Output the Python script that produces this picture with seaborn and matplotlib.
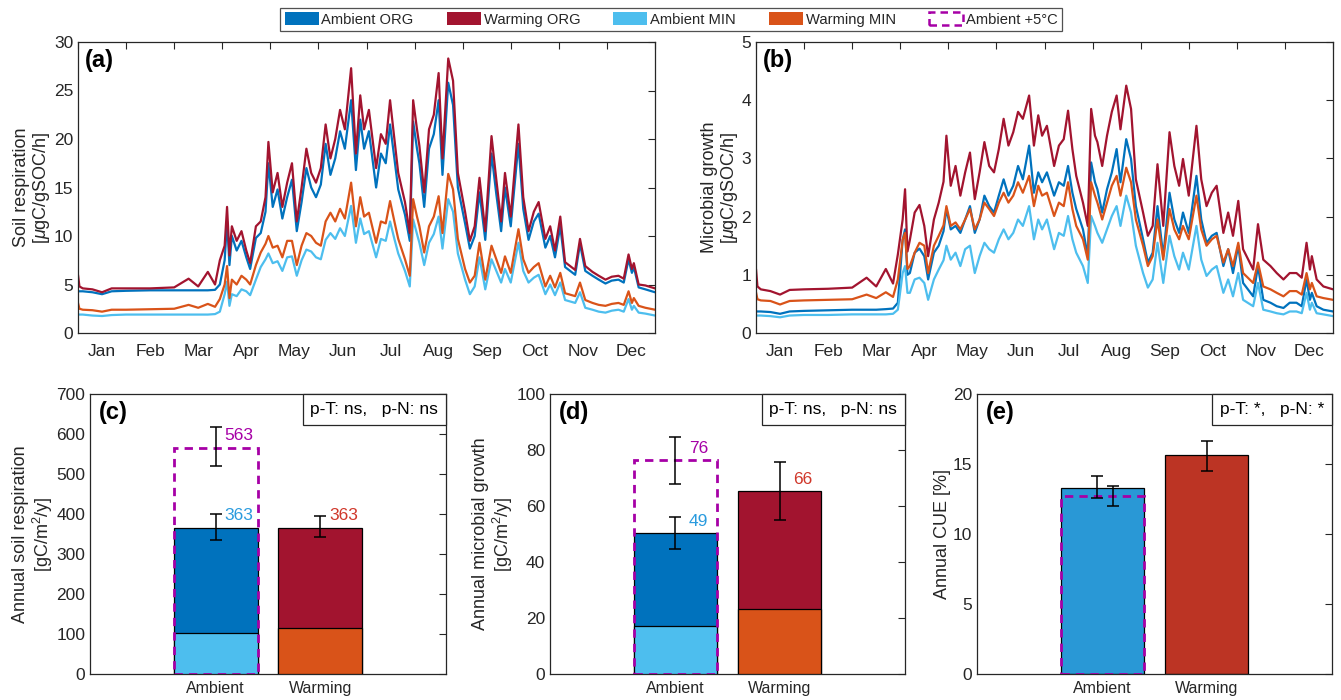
import numpy as np
import pandas as pd
import matplotlib
matplotlib.use("Agg")
import matplotlib.pyplot as plt
import seaborn as sns
from matplotlib.patches import Patch
from matplotlib.offsetbox import AnchoredText

# ---------------- data ----------------
month_labels = ["Jan", "Feb", "Mar", "Apr", "May", "Jun", "Jul", "Aug", "Sep", "Oct", "Nov", "Dec"]

# time knots in months since 1 Jan
months = [0.0, 0.03, 0.1, 0.3, 0.5, 0.7, 1.0, 1.5, 2.0, 2.3,
          2.5, 2.7, 2.85, 2.95, 3.05, 3.1, 3.15, 3.2, 3.3, 3.4,
          3.5, 3.58, 3.7, 3.8, 3.9, 3.96, 4.05, 4.15, 4.25, 4.35,
          4.45, 4.55, 4.65, 4.75, 4.85, 4.95, 5.05, 5.15, 5.25, 5.35,
          5.45, 5.55, 5.68, 5.78, 5.87, 5.95, 6.05, 6.2, 6.3, 6.4,
          6.49, 6.58, 6.66, 6.8, 6.9, 6.97, 7.05, 7.1, 7.2, 7.3,
          7.4, 7.5, 7.58, 7.7, 7.8, 7.9, 8.05, 8.15, 8.25, 8.35,
          8.47, 8.6, 8.7, 8.8, 8.88, 9.0, 9.16, 9.26, 9.37, 9.48,
          9.58, 9.72, 9.82, 9.92, 10.03, 10.13, 10.34, 10.44, 10.55, 10.7,
          10.83, 10.97, 11.1, 11.24, 11.35, 11.45, 11.52, 11.56, 11.66, 11.8,
          12.0]

# (a) soil respiration [ugC/gSOC/h]
resp_amb_org = [4.3, 4.3, 4.3, 4.2, 4.0, 4.3, 4.35, 4.4, 4.4, 4.4,
                4.4, 4.4, 4.45, 5.0, 7.5, 11.5, 7.0, 10.0, 8.5, 9.5,
                7.8, 6.6, 9.8, 10.3, 12.5, 17.5, 13.0, 14.8, 11.8, 14.0,
                15.8, 10.5, 13.5, 17.0, 15.0, 14.0, 15.3, 19.5, 16.3, 18.0,
                20.8, 19.0, 24.0, 16.8, 22.0, 19.0, 20.8, 15.0, 18.5, 17.5,
                21.5, 18.0, 14.8, 12.2, 9.5, 21.8, 19.0, 17.5, 13.0, 19.0,
                20.5, 24.0, 16.3, 25.8, 23.5, 15.0, 11.3, 8.7, 10.0, 14.5,
                9.6, 18.5, 14.3, 10.5, 15.0, 11.0, 19.5, 12.8, 9.6, 11.5,
                12.3, 8.8, 10.0, 7.8, 11.0, 6.8, 6.0, 9.2, 6.4, 5.9,
                5.5, 5.1, 5.4, 5.5, 5.2, 7.6, 6.2, 6.8, 4.7, 4.5,
                4.2]
resp_warm_org = [6.0, 4.8, 4.6, 4.5, 4.2, 4.6, 4.6, 4.6, 4.7, 5.6,
                 4.8, 6.3, 5.0, 7.5, 9.0, 13.0, 8.0, 11.0, 9.5, 10.5,
                 8.5, 7.2, 11.0, 11.5, 14.0, 19.7, 14.5, 16.5, 13.0, 15.5,
                 17.5, 11.5, 15.0, 19.0, 16.5, 15.5, 17.0, 21.5, 18.0, 20.0,
                 23.0, 21.0, 27.3, 18.5, 24.5, 21.0, 23.0, 17.0, 20.5, 19.5,
                 24.0, 20.0, 16.5, 13.5, 10.3, 24.0, 21.0, 19.3, 14.5, 21.0,
                 22.5, 26.8, 18.0, 28.3, 26.0, 16.5, 12.5, 9.5, 11.0, 16.0,
                 10.5, 20.3, 15.8, 11.5, 16.5, 12.0, 21.5, 14.0, 10.5, 12.5,
                 13.5, 9.7, 11.0, 8.5, 12.0, 7.3, 6.5, 9.7, 6.9, 6.3,
                 5.9, 5.5, 5.8, 5.9, 5.6, 8.1, 6.6, 7.2, 5.0, 4.9,
                 4.6]
resp_amb_min = [1.9, 1.9, 1.9, 1.8, 1.75, 1.85, 1.9, 1.9, 1.9, 1.9,
                1.9, 1.9, 1.95, 2.2, 4.0, 5.3, 2.8, 4.0, 3.8, 4.5,
                4.3, 3.9, 5.5, 6.8, 7.6, 8.2, 7.2, 7.4, 6.4, 7.8,
                7.9, 5.9, 7.5, 8.6, 8.4, 7.8, 7.6, 9.6, 10.3, 9.7,
                10.8, 10.0, 13.1, 9.3, 11.8, 10.2, 10.5, 7.8, 9.7, 9.5,
                11.5, 9.7, 8.2, 6.4, 4.8, 11.7, 10.2, 9.3, 7.0, 9.3,
                10.2, 12.0, 8.7, 13.8, 12.5, 8.2, 5.5, 4.0, 4.8, 7.8,
                4.5, 7.6, 6.4, 5.2, 6.6, 5.2, 9.3, 6.4, 5.2, 5.7,
                6.0, 4.0, 5.0, 3.9, 5.2, 3.4, 3.1, 4.2, 2.6, 2.4,
                2.2, 2.1, 2.3, 2.4, 2.2, 3.5, 2.4, 2.8, 2.1, 2.0,
                1.8]
resp_warm_min = [3.1, 2.5, 2.4, 2.35, 2.2, 2.4, 2.4, 2.45, 2.5, 2.9,
                 2.6, 3.0, 2.7, 3.5, 5.0, 6.9, 3.6, 5.5, 5.0, 5.9,
                 5.5, 5.0, 7.0, 8.3, 9.2, 10.0, 8.8, 9.0, 7.8, 9.5,
                 9.5, 7.0, 9.0, 10.3, 10.0, 9.3, 9.0, 11.5, 12.4, 11.5,
                 12.8, 11.8, 15.5, 11.0, 14.0, 12.0, 12.4, 9.3, 11.5, 11.3,
                 13.6, 11.5, 9.7, 7.6, 5.9, 13.8, 12.0, 11.0, 8.3, 11.0,
                 12.0, 14.1, 10.3, 16.4, 14.8, 9.7, 6.6, 5.2, 5.9, 9.3,
                 5.5, 9.0, 7.6, 6.2, 7.9, 6.2, 10.7, 7.6, 6.2, 6.8,
                 7.2, 4.8, 5.9, 4.7, 6.2, 4.1, 3.8, 5.2, 3.4, 3.1,
                 2.9, 2.8, 3.0, 3.1, 2.9, 4.3, 3.1, 3.6, 2.8, 2.6,
                 2.4]

# (b) microbial growth [ugC/gSOC/h]
grow_amb_org = [0.37, 0.37, 0.37, 0.36, 0.33, 0.37, 0.38, 0.39, 0.4, 0.4,
                0.4, 0.41, 0.42, 0.52, 1.6, 1.78, 1.0, 1.03, 1.38, 1.45,
                1.32, 0.92, 1.38, 1.5, 1.75, 2.13, 1.78, 1.84, 1.72, 1.95,
                2.18, 1.72, 1.95, 2.36, 2.18, 2.07, 2.36, 2.64, 2.36, 2.53,
                2.87, 2.64, 3.22, 2.41, 2.76, 2.59, 2.76, 2.36, 2.59, 2.53,
                2.87, 2.41, 2.13, 1.78, 1.32, 2.93, 2.59, 2.47, 2.07, 2.47,
                2.76, 3.16, 2.59, 3.33, 2.99, 2.18, 1.61, 1.21, 1.38, 2.18,
                1.32, 2.41, 1.95, 1.72, 2.07, 1.72, 2.7, 1.95, 1.55, 1.67,
                1.72, 1.15, 1.44, 1.03, 1.5, 0.86, 0.63, 1.15, 0.57, 0.52,
                0.46, 0.43, 0.52, 0.52, 0.46, 0.92, 0.57, 0.69, 0.46, 0.4,
                0.37]
grow_warm_org = [1.1, 0.8, 0.75, 0.72, 0.66, 0.74, 0.75, 0.76, 0.78, 0.95,
                 0.8, 1.1, 0.85, 1.35, 1.95, 2.47, 1.4, 1.6, 2.07, 2.2,
                 1.84, 1.32, 1.95, 2.24, 2.6, 3.39, 2.53, 2.87, 2.36, 2.76,
                 3.1, 2.3, 2.76, 3.28, 2.87, 2.76, 3.16, 3.68, 3.22, 3.45,
                 3.8, 3.68, 4.08, 3.22, 3.74, 3.39, 3.56, 2.87, 3.22, 3.33,
                 3.82, 3.16, 2.7, 2.24, 1.84, 3.85, 3.39, 3.28, 2.87, 3.39,
                 3.8, 4.08, 3.5, 4.25, 3.85, 2.64, 2.07, 1.67, 1.84, 2.9,
                 1.84, 3.45, 2.87, 2.53, 2.99, 2.36, 3.56, 2.64, 2.18, 2.41,
                 2.53, 1.72, 2.07, 1.67, 2.27, 1.44, 1.09, 1.87, 1.26, 1.15,
                 1.03, 0.92, 1.03, 1.03, 0.95, 1.55, 1.09, 1.32, 0.92, 0.8,
                 0.75]
grow_amb_min = [0.3, 0.3, 0.3, 0.29, 0.27, 0.3, 0.31, 0.31, 0.32, 0.32,
                0.32, 0.32, 0.33, 0.4, 1.03, 1.15, 0.69, 0.69, 0.92, 0.95,
                0.86, 0.57, 0.92, 1.09, 1.25, 1.5, 1.26, 1.38, 1.15, 1.44,
                1.5, 1.03, 1.32, 1.55, 1.44, 1.38, 1.61, 1.78, 1.61, 1.72,
                1.95, 1.84, 2.18, 1.61, 1.95, 1.78, 1.95, 1.44, 1.72, 1.67,
                2.01, 1.61, 1.38, 1.15, 0.86, 2.01, 1.84, 1.72, 1.55, 1.78,
                2.01, 2.18, 1.84, 2.36, 2.07, 1.5, 1.03, 0.78, 0.92, 1.55,
                0.86, 1.67, 1.32, 1.09, 1.38, 1.09, 1.84, 1.26, 0.98, 1.09,
                1.15, 0.69, 0.92, 0.63, 1.03, 0.57, 0.46, 0.86, 0.4, 0.37,
                0.34, 0.32, 0.37, 0.37, 0.34, 0.69, 0.4, 0.52, 0.34, 0.32,
                0.29]
grow_warm_min = [0.7, 0.58, 0.56, 0.55, 0.49, 0.55, 0.56, 0.57, 0.58, 0.66,
                 0.6, 0.7, 0.62, 0.92, 1.6, 1.72, 1.1, 1.15, 1.38, 1.55,
                 1.5, 1.03, 1.5, 1.67, 1.85, 2.18, 1.84, 1.9, 1.78, 1.95,
                 2.13, 1.78, 1.95, 2.24, 2.13, 2.01, 2.24, 2.41, 2.24, 2.36,
                 2.59, 2.41, 2.7, 2.18, 2.53, 2.36, 2.41, 2.01, 2.24, 2.18,
                 2.59, 2.13, 1.84, 1.61, 1.26, 2.59, 2.36, 2.24, 1.95, 2.24,
                 2.53, 2.7, 2.36, 2.84, 2.59, 1.95, 1.5, 1.15, 1.32, 1.95,
                 1.26, 2.13, 1.78, 1.61, 1.84, 1.61, 2.36, 1.78, 1.5, 1.61,
                 1.67, 1.21, 1.44, 1.15, 1.55, 1.03, 0.86, 1.21, 0.8, 0.75,
                 0.69, 0.63, 0.72, 0.72, 0.66, 1.03, 0.75, 0.86, 0.63, 0.6,
                 0.57]

# bar panels
treatments = ["Ambient", "Warming"]
# (c) annual soil respiration [gC/m2/y]
c_total = [366, 366]
c_min = [102, 115]
c_err_lo = [335, 343]
c_err_hi = [400, 396]
c_labels = ["363", "363"]
c_plus5 = 566
c_plus5_lo, c_plus5_hi = 521, 617
c_plus5_label = "563"
# (d) annual microbial growth [gC/m2/y]
d_total = [50.2, 65.3]
d_min = [17.1, 23.2]
d_err_lo = [44.7, 55.1]
d_err_hi = [56.2, 75.7]
d_labels = ["49", "66"]
d_plus5 = 76.3
d_plus5_lo, d_plus5_hi = 67.7, 84.8
d_plus5_label = "76"
# (e) annual CUE [%]
e_total = [13.27, 15.65]
e_err_lo = [12.6, 14.53]
e_err_hi = [14.17, 16.67]
e_plus5 = 12.75
e_plus5_lo, e_plus5_hi = 12.01, 13.46

p_texts = ["p-T: ns,   p-N: ns", "p-T: ns,   p-N: ns", "p-T: *,   p-N: *"]

# ---------------- style ----------------
sns.set_theme(style="white")
plt.rcParams["font.family"] = ["Liberation Sans", "DejaVu Sans"]
plt.rcParams["mathtext.fontset"] = "custom"
plt.rcParams["mathtext.rm"] = "Liberation Sans"
plt.rcParams["mathtext.it"] = "Liberation Sans:italic"

C_AO = "#0072BD"
C_WO = "#A2142F"
C_AM = "#4DBEEE"
C_WM = "#D95319"
C_MAG = "#A600A6"
C_EDGE = "#262626"
C_LBL_AMB = "#2A9BDE"
C_LBL_WARM = "#D0372A"
C_E_AMB = "#2998D6"
C_E_WARM = "#BC3424"

fig = plt.figure(figsize=(13.41, 7.0), dpi=100)
W, H = 1341.0, 700.0


def add_ax(l, r, t, b):
    return fig.add_axes([l / W, 1 - b / H, (r - l) / W, (b - t) / H])


axA = add_ax(78, 655, 42, 333)
axB = add_ax(756, 1333, 42, 333)
axC = add_ax(90, 446, 394, 674)
axD = add_ax(550, 905, 394, 674)
axE = add_ax(977, 1332, 394, 674)


def style_axes(ax):
    for s in ax.spines.values():
        s.set_color(C_EDGE)
        s.set_linewidth(0.9)
    ax.tick_params(direction="in", top=True, right=True, length=5, width=0.8,
                   colors=C_EDGE, labelsize=12.5, labelcolor=C_EDGE)


order = ["Ambient ORG", "Warming ORG", "Ambient MIN", "Warming MIN"]
palette = {"Ambient ORG": C_AO, "Warming ORG": C_WO, "Ambient MIN": C_AM, "Warming MIN": C_WM}


def ts_panel(ax, ao, wo, am, wm, ylim, yticks, ylabel, tag):
    frames = []
    for name, vals in zip(order, [ao, wo, am, wm]):
        frames.append(pd.DataFrame({"month": months, "value": vals, "series": name}))
    df = pd.concat(frames, ignore_index=True)
    sns.lineplot(data=df, x="month", y="value", hue="series", hue_order=order,
                 palette=palette, estimator=None, sort=False, linewidth=1.6,
                 legend=False, ax=ax)
    ax.set_xlim(0, 12)
    ax.set_ylim(*ylim)
    ax.set_yticks(yticks)
    ax.set_xticks(np.arange(0, 13))
    ax.set_xticklabels([])
    ax.set_xticks(np.arange(12) + 0.5, minor=True)
    ax.set_xticklabels(month_labels, minor=True)
    style_axes(ax)
    ax.tick_params(axis="x", which="minor", length=0, labelsize=12.5, pad=8)
    ax.set_xlabel("")
    ax.set_ylabel(ylabel, fontsize=13, color=C_EDGE, linespacing=1.1, labelpad=1)
    ax.text(0.012, 0.975, tag, transform=ax.transAxes, ha="left", va="top",
            fontsize=17, fontweight="bold", color="black")


ts_panel(axA, resp_amb_org, resp_warm_org, resp_amb_min, resp_warm_min,
         (0, 30), np.arange(0, 31, 5), "Soil respiration\n[$\\mu$gC/gSOC/h]", "(a)")
ts_panel(axB, grow_amb_org, grow_warm_org, grow_amb_min, grow_warm_min,
         (0, 5), np.arange(0, 6, 1), "Microbial growth\n[$\\mu$gC/gSOC/h]", "(b)")


def errbars(ax, xs, lo, hi):
    lo = np.asarray(lo, float)
    hi = np.asarray(hi, float)
    mid = (lo + hi) / 2
    ax.errorbar(xs, mid, yerr=[mid - lo, hi - mid], fmt="none", ecolor="black",
                elinewidth=1.1, capsize=4, capthick=1.1, zorder=6)


def bar_panel(ax, total, mins, err_lo, err_hi, plus5, p5lo, p5hi, labels,
              p5label, ylim, yticks, ylabel, tag, ptext, total_colors, min_colors,
              err_x=(0.0, 0.0), p5_err_x=0.0):
    df_tot = pd.DataFrame({"treatment": treatments, "value": total})
    sns.barplot(data=df_tot, x="treatment", y="value", hue="treatment",
                order=treatments, hue_order=treatments,
                palette=dict(zip(treatments, total_colors)), width=0.8, saturation=1,
                edgecolor="black", linewidth=0.9, legend=False, ax=ax, zorder=2)
    if mins is not None:
        df_min = pd.DataFrame({"treatment": treatments, "value": mins})
        sns.barplot(data=df_min, x="treatment", y="value", hue="treatment",
                    order=treatments, hue_order=treatments,
                    palette=dict(zip(treatments, min_colors)), width=0.8, saturation=1,
                    edgecolor="black", linewidth=0.9, legend=False, ax=ax, zorder=3)
    # ambient +5 C dashed outline
    ax.bar([0], [plus5], width=0.8, facecolor="none", edgecolor=C_MAG,
           linestyle=(0, (3, 2.2)), linewidth=2.0, zorder=5)
    errbars(ax, [0 + err_x[0], 1 + err_x[1]], err_lo, err_hi)
    errbars(ax, [0 + p5_err_x], [p5lo], [p5hi])
    off = ylim[1] * 0.043
    if labels is not None:
        ax.text(0.22, total[0] + off, labels[0], color=C_LBL_AMB, fontsize=12.5,
                ha="center", va="center", zorder=7)
        ax.text(1.22, total[1] + off, labels[1], color=C_LBL_WARM, fontsize=12.5,
                ha="center", va="center", zorder=7)
        ax.text(0.22, plus5 + off, p5label, color=C_MAG, fontsize=12.5,
                ha="center", va="center", zorder=7)
    ax.set_xlim(-1.2, 2.2)
    ax.set_ylim(*ylim)
    ax.set_yticks(yticks)
    style_axes(ax)
    ax.tick_params(axis="x", length=0, labelsize=11.5, pad=5, top=False)
    ax.set_xlabel("")
    ax.set_ylabel(ylabel, fontsize=13, color=C_EDGE, linespacing=1.1, labelpad=1)
    ax.text(0.025, 0.975, tag, transform=ax.transAxes, ha="left", va="top",
            fontsize=17, fontweight="bold", color="black")
    at = AnchoredText(ptext, loc="upper right", frameon=True, borderpad=0.0,
                      pad=0.45, prop=dict(size=12.5, color="black"))
    at.patch.set_edgecolor(C_EDGE)
    at.patch.set_linewidth(0.9)
    at.zorder = 8
    ax.add_artist(at)


bar_panel(axC, c_total, c_min, c_err_lo, c_err_hi, c_plus5, c_plus5_lo, c_plus5_hi,
          c_labels, c_plus5_label, (0, 700), np.arange(0, 701, 100),
          "Annual soil respiration\n[gC/m$^2$/y]", "(c)", p_texts[0],
          [C_AO, C_WO], [C_AM, C_WM])
bar_panel(axD, d_total, d_min, d_err_lo, d_err_hi, d_plus5, d_plus5_lo, d_plus5_hi,
          d_labels, d_plus5_label, (0, 100), np.arange(0, 101, 20),
          "Annual microbial growth\n[gC/m$^2$/y]", "(d)", p_texts[1],
          [C_AO, C_WO], [C_AM, C_WM])
bar_panel(axE, e_total, None, e_err_lo, e_err_hi, e_plus5, e_plus5_lo, e_plus5_hi,
          None, None, (0, 20), np.arange(0, 21, 5),
          "Annual CUE [%]", "(e)", p_texts[2],
          [C_E_AMB, C_E_WARM], None, err_x=(-0.05, 0.0), p5_err_x=0.1)

# legend
handles = [Patch(facecolor=C_AO, edgecolor="none"),
           Patch(facecolor=C_WO, edgecolor="none"),
           Patch(facecolor=C_AM, edgecolor="none"),
           Patch(facecolor=C_WM, edgecolor="none"),
           Patch(facecolor="none", edgecolor=C_MAG, linestyle=(0, (3, 2)), linewidth=1.8)]
labels = ["Ambient ORG", "Warming ORG", "Ambient MIN", "Warming MIN", "Ambient +5°C"]
leg = fig.legend(handles, labels, loc="upper center", bbox_to_anchor=(0.5005, 0.999),
                 ncol=5, frameon=True, fancybox=False, fontsize=10.6,
                 handlelength=2.3, handleheight=0.9, handletextpad=0.2,
                 columnspacing=2.25, borderpad=0.3)
leg.get_frame().set_edgecolor(C_EDGE)
leg.get_frame().set_linewidth(0.9)

fig.savefig("out.png", dpi=100)
